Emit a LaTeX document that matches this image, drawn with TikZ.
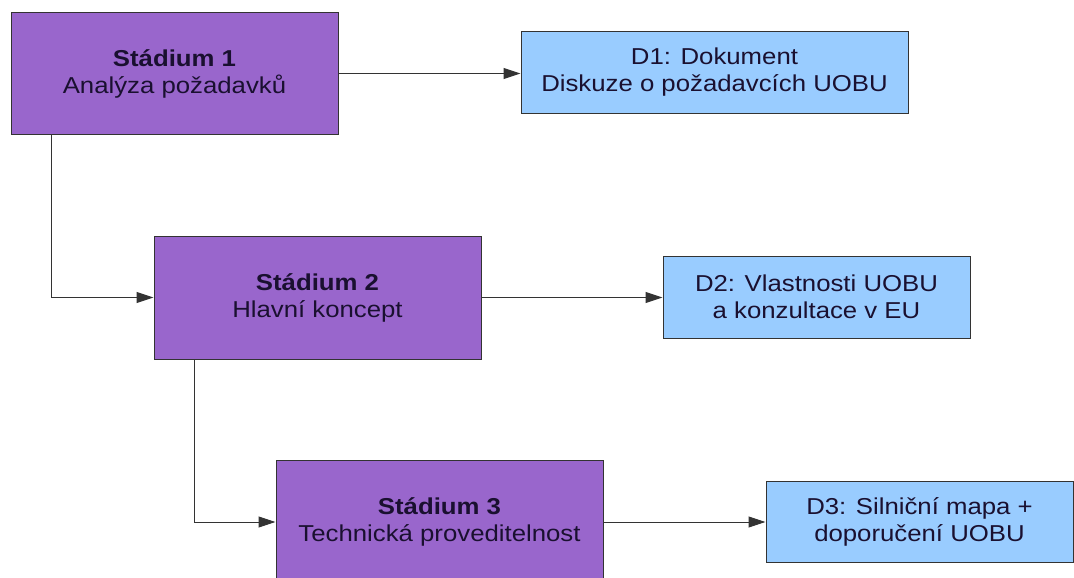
\documentclass[tikz,border=0pt]{standalone}
\usepackage{fontspec}
\setmainfont{Liberation Sans}[FakeStretch=1.12]
\usetikzlibrary{arrows.meta}
\definecolor{stagefill}{HTML}{9966CC}
\definecolor{delivfill}{HTML}{99CCFF}
\definecolor{edgecol}{HTML}{333333}
\definecolor{textcol}{HTML}{1A1030}
\begin{document}
\begin{tikzpicture}[x=1pt,y=-1pt,
  basebox/.style={draw=edgecol, line width=1pt, align=center, inner sep=0pt,
    text=textcol, font=\fontsize{23}{27}\selectfont},
  stagebox/.style={basebox, fill=stagefill, minimum width=327pt},
  delivbox/.style={basebox, fill=delivfill},
  conn/.style={draw=edgecol, line width=1pt, -{Triangle[length=17pt,width=11pt]}}]
\useasboundingbox (0,0) rectangle (1074,578);
\fill[white] (0,0) rectangle (1074,578);

\node[stagebox, minimum height=121pt] (s1) at (174.5,73.5) {\textbf{Stádium 1}\\Analýza požadavků};
\node[stagebox, minimum height=123pt] (s2) at (317.5,297.5) {\textbf{Stádium 2}\\Hlavní koncept};
\node[stagebox, minimum height=124pt] (s3) at (439.5,522) {\textbf{Stádium 3}\\Technická proveditelnost};

\node[delivbox, minimum width=387pt, minimum height=81pt] (d1) at (714.5,72.5) {D1: Dokument\\Diskuze o požadavcích UOBU};
\node[delivbox, minimum width=307pt, minimum height=82pt] (d2) at (816.5,297) {D2: Vlastnosti UOBU\\a konzultace v EU};
\node[delivbox, minimum width=307pt, minimum height=81pt] (d3) at (919.5,521.5) {D3: Silniční mapa +\\doporučení UOBU};

\draw[conn] (s1.east) -- (s1.east -| d1.west);
\draw[conn] ([xshift=41pt]s1.south west) |- (s2.west);
\draw[conn] (s2.east) -- (s2.east -| d2.west);
\draw[conn] ([xshift=41pt]s2.south west) |- (s3.west);
\draw[conn] (s3.east) -- (s3.east -| d3.west);
\end{tikzpicture}
\end{document}
